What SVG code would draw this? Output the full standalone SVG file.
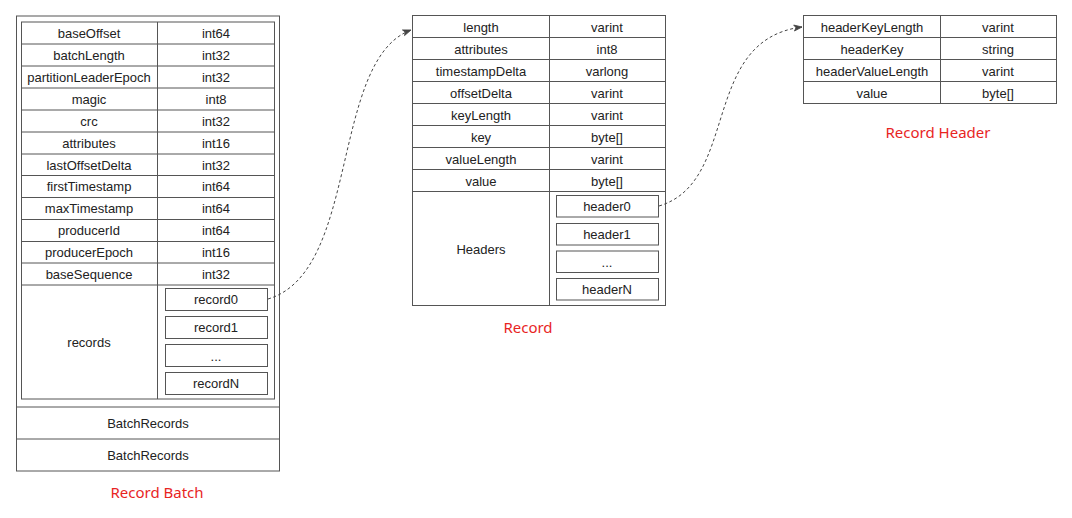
<svg xmlns="http://www.w3.org/2000/svg" width="1072" height="518" viewBox="0 0 1072 518">
<style>
.b{fill:#fff;stroke:#555;stroke-width:1}
.l{stroke:#555;stroke-width:1;fill:none}
.t{font-family:"Liberation Sans",Arial,sans-serif;font-size:13px;fill:#222;text-anchor:middle;dominant-baseline:central}
.r{font-family:"Noto Sans","Open Sans",sans-serif;font-size:15px;fill:#e8251f;text-anchor:middle;dominant-baseline:central}
.c{stroke:#444;stroke-width:1;fill:none;stroke-dasharray:3 2.5}
</style>
<defs>
<marker id="ah" markerWidth="10" markerHeight="8" refX="9" refY="4" orient="auto" markerUnits="userSpaceOnUse">
<path d="M1,1 L9,4 L1,7 L3,4 Z" fill="#444" stroke="#444" stroke-width="0.8"/>
</marker>
</defs>
<rect width="1072" height="518" fill="#fff"/>

<g id="record-batch">
<rect class="b" x="16.5" y="16" width="263" height="455"/>
<rect class="b" x="21.5" y="22" width="253" height="377"/>
<line class="l" x1="157.5" y1="22" x2="157.5" y2="399"/>
<g class="l">
<line x1="21.5" y1="44" x2="274.5" y2="44"/>
<line x1="21.5" y1="66" x2="274.5" y2="66"/>
<line x1="21.5" y1="88" x2="274.5" y2="88"/>
<line x1="21.5" y1="110" x2="274.5" y2="110"/>
<line x1="21.5" y1="132" x2="274.5" y2="132"/>
<line x1="21.5" y1="154" x2="274.5" y2="154"/>
<line x1="21.5" y1="175.5" x2="274.5" y2="175.5"/>
<line x1="21.5" y1="197.5" x2="274.5" y2="197.5"/>
<line x1="21.5" y1="219.5" x2="274.5" y2="219.5"/>
<line x1="21.5" y1="241.5" x2="274.5" y2="241.5"/>
<line x1="21.5" y1="263" x2="274.5" y2="263"/>
<line x1="21.5" y1="285" x2="274.5" y2="285"/>
<line x1="16.5" y1="407" x2="279.5" y2="407"/>
<line x1="16.5" y1="439" x2="279.5" y2="439"/>
</g>
<g class="t">
<text x="89" y="33">baseOffset</text><text x="216" y="33">int64</text>
<text x="89" y="55">batchLength</text><text x="216" y="55">int32</text>
<text x="89" y="77">partitionLeaderEpoch</text><text x="216" y="77">int32</text>
<text x="89" y="99">magic</text><text x="216" y="99">int8</text>
<text x="89" y="121">crc</text><text x="216" y="121">int32</text>
<text x="89" y="143">attributes</text><text x="216" y="143">int16</text>
<text x="89" y="165">lastOffsetDelta</text><text x="216" y="165">int32</text>
<text x="89" y="186.5">firstTimestamp</text><text x="216" y="186.5">int64</text>
<text x="89" y="208.5">maxTimestamp</text><text x="216" y="208.5">int64</text>
<text x="89" y="230.5">producerId</text><text x="216" y="230.5">int64</text>
<text x="89" y="252">producerEpoch</text><text x="216" y="252">int16</text>
<text x="89" y="274">baseSequence</text><text x="216" y="274">int32</text>
<text x="89" y="342">records</text>
<text x="148" y="423">BatchRecords</text>
<text x="148" y="455">BatchRecords</text>
</g>
<rect class="b" x="165.5" y="288.5" width="102" height="22"/>
<rect class="b" x="165.5" y="316.5" width="102" height="22"/>
<rect class="b" x="165.5" y="344.5" width="102" height="22"/>
<rect class="b" x="165.5" y="372.5" width="102" height="22"/>
<g class="t">
<text x="216" y="299.5">record0</text>
<text x="216" y="327.5">record1</text>
<text x="216" y="356">...</text>
<text x="216" y="383.5">recordN</text>
</g>
<text class="r" x="157" y="492">Record Batch</text>
</g>

<g id="record">
<rect class="b" x="412.5" y="15.5" width="253" height="290"/>
<line class="l" x1="549.5" y1="15.5" x2="549.5" y2="305.5"/>
<g class="l">
<line x1="412.5" y1="37.5" x2="665.5" y2="37.5"/>
<line x1="412.5" y1="59.5" x2="665.5" y2="59.5"/>
<line x1="412.5" y1="81.5" x2="665.5" y2="81.5"/>
<line x1="412.5" y1="103.5" x2="665.5" y2="103.5"/>
<line x1="412.5" y1="125.5" x2="665.5" y2="125.5"/>
<line x1="412.5" y1="147.5" x2="665.5" y2="147.5"/>
<line x1="412.5" y1="169.5" x2="665.5" y2="169.5"/>
<line x1="412.5" y1="191.5" x2="665.5" y2="191.5"/>
</g>
<g class="t">
<text x="481" y="27">length</text><text x="607" y="27">varint</text>
<text x="481" y="49">attributes</text><text x="607" y="49">int8</text>
<text x="481" y="71">timestampDelta</text><text x="607" y="71">varlong</text>
<text x="481" y="93">offsetDelta</text><text x="607" y="93">varint</text>
<text x="481" y="115">keyLength</text><text x="607" y="115">varint</text>
<text x="481" y="137">key</text><text x="607" y="137">byte[]</text>
<text x="481" y="159">valueLength</text><text x="607" y="159">varint</text>
<text x="481" y="181">value</text><text x="607" y="181">byte[]</text>
<text x="481" y="249">Headers</text>
</g>
<rect class="b" x="556.5" y="195.5" width="102" height="21.5"/>
<rect class="b" x="556.5" y="223.5" width="102" height="21.5"/>
<rect class="b" x="556.5" y="251" width="102" height="21.5"/>
<rect class="b" x="556.5" y="278.5" width="102" height="21.5"/>
<g class="t">
<text x="607" y="206.5">header0</text>
<text x="607" y="234.5">header1</text>
<text x="607" y="262">...</text>
<text x="607" y="289.5">headerN</text>
</g>
<text class="r" x="528" y="327">Record</text>
</g>

<g id="record-header">
<rect class="b" x="803.5" y="15.5" width="253" height="88"/>
<line class="l" x1="940.5" y1="15.5" x2="940.5" y2="103.5"/>
<g class="l">
<line x1="803.5" y1="37.5" x2="1056.5" y2="37.5"/>
<line x1="803.5" y1="59.5" x2="1056.5" y2="59.5"/>
<line x1="803.5" y1="81.5" x2="1056.5" y2="81.5"/>
</g>
<g class="t">
<text x="872" y="27">headerKeyLength</text><text x="998" y="27">varint</text>
<text x="872" y="49">headerKey</text><text x="998" y="49">string</text>
<text x="872" y="71">headerValueLength</text><text x="998" y="71">varint</text>
<text x="872" y="93">value</text><text x="998" y="93">byte[]</text>
</g>
<text class="r" x="938" y="132">Record Header</text>
</g>

<g id="connectors">
<path class="c" d="M268,299 C360,272 330,60 411,30" marker-end="url(#ah)"/>
<path class="c" d="M659,206 C740,182 700,40 802,27" marker-end="url(#ah)"/>
</g>
</svg>
